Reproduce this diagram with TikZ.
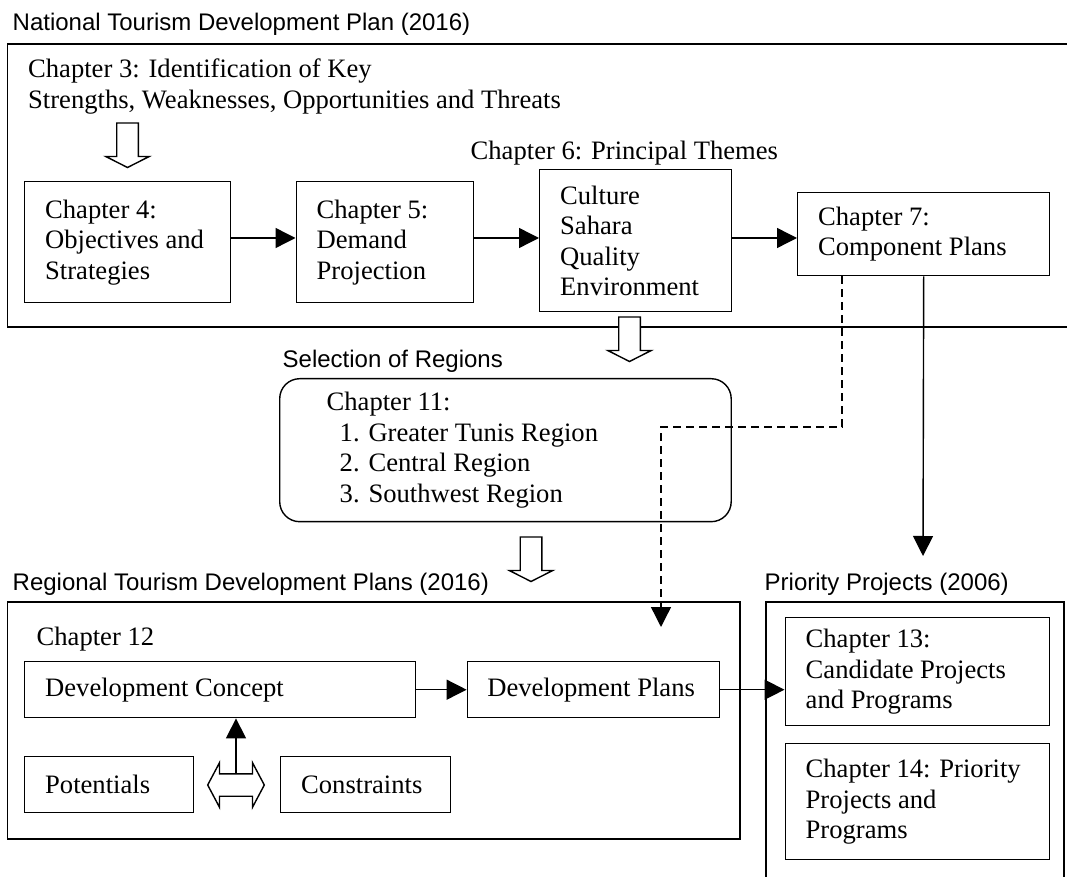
\documentclass[tikz,border=0pt]{standalone}
\usepackage{fontspec}
\setmainfont{Liberation Serif}
\setsansfont{Liberation Sans}
\usetikzlibrary{arrows.meta}

\newcommand\chapfont{\fontsize{13.3pt}{15.25pt}\selectfont}
\newcommand\headfont{\sffamily\fontsize{12pt}{14pt}\selectfont}

\begin{document}
\begin{tikzpicture}[x=0.5pt, y=-0.5pt, line width=0.7pt,
    chapter/.style ={draw, rectangle, anchor=north west, align=flush left,
                     inner xsep=10.25pt, inner ysep=0pt, font=\chapfont},
    heading/.style ={anchor=base west, inner sep=0pt, font=\headfont},
    caption/.style ={anchor=base west, inner sep=0pt, font=\chapfont},
    conn/.style    ={-{Triangle[length=10pt,width=10pt]}},
    dashconn/.style={conn, dash pattern=on 4pt off 2.5pt},
    hollowdown/.pic={\draw[fill=white] (-10.8,0) -- (-10.8,33.5) -- (-21.7,33.5)
                     -- (0,44.5) -- (21.7,33.5) -- (10.8,33.5) -- (10.8,0) -- cycle;},
    hollowboth/.pic={\draw[fill=white] (-16.5,-22.3) -- (-28.3,0) -- (-16.5,22.3)
                     -- (-16.5,11.2) -- (16.5,11.2) -- (16.5,22.3) -- (28.3,0)
                     -- (16.5,-22.3) -- (16.5,-11.2) -- (-16.5,-11.2) -- cycle;}]
   \useasboundingbox (0,0) rectangle (1067,877);
   \clip (0,0) rectangle (1067,877);

   % national plan
   \node[heading] (natTitle) at (12,30.7) {National Tourism Development Plan (2016)};
   \draw (7.6,44) rectangle (1080,327);
   \node[caption] (ch3) at (27.5,78)
        {\begin{tabular}[t]{@{}l@{}}Chapter 3: Identification of Key\\
         Strengths, Weaknesses, Opportunities and Threats\end{tabular}};
   \pic at (127.5,123) {hollowdown};
   \node[chapter, minimum width=103pt, minimum height=60.5pt, text width=82.5pt]
        (ch4) at (24,181) {Chapter 4:\\Objectives and\\Strategies};
   \node[chapter, minimum width=88.75pt, minimum height=60.5pt, text width=68.25pt]
        (ch5) at (295.5,181) {Chapter 5:\\Demand\\Projection};
   \node[caption] (themesTitle) at (470,160) {Chapter 6: Principal Themes};
   \node[chapter, minimum width=96pt, minimum height=71pt, text width=75.5pt]
        (themes) at (539,169) {Culture\\Sahara\\Quality\\Environment};
   \node[chapter, minimum width=126pt, minimum height=41.5pt, text width=105.5pt]
        (ch7) at (797,192) {Chapter 7:\\Component Plans};
   \coordinate (row) at (0,238);
   \draw[conn] (ch4.east |- row) -- (ch5.west |- row);
   \draw[conn] (ch5.east |- row) -- (themes.west |- row);
   \draw[conn] (themes.east |- row) -- (ch7.west |- row);

   % selection of regions
   \pic at (629.5,317) {hollowdown};
   \node[heading] (selTitle) at (282,368) {Selection of Regions};
   \node[chapter, rounded corners=10pt, inner xsep=23.5pt, minimum width=225.75pt,
         minimum height=71.5pt, text width=178.75pt] (ch11) at (279,378)
        {Chapter 11:\\\hspace*{6.5pt}1. Greater Tunis Region\\\hspace*{6.5pt}2. Central Region\\\hspace*{6.5pt}3. Southwest Region};
   \pic at (531,537) {hollowdown};

   % regional plans
   \node[heading] (regTitle) at (12,590) {Regional Tourism Development Plans (2016)};
   \draw (7.6,602) rectangle (740,839);
   \node[caption] (ch12) at (36,646) {Chapter 12};
   \node[chapter, minimum width=195.5pt, minimum height=28pt, text width=175pt]
        (devConcept) at (24,661) {Development Concept};
   \node[chapter, inner xsep=10pt, minimum width=126.2pt, minimum height=28pt, text width=106.2pt]
        (devPlans) at (466.6,661) {Development Plans};
   \node[chapter, minimum width=84.5pt, minimum height=28pt, text width=64pt]
        (potentials) at (24,756) {Potentials};
   \node[chapter, minimum width=84.75pt, minimum height=28pt, text width=64.25pt]
        (constraints) at (280,756) {Constraints};
   \pic at (236,785) {hollowboth};
   \coordinate (dblTop) at (236,773.8);
   \draw[conn] (dblTop) -- (dblTop |- devConcept.south);
   \draw[conn] (devConcept) -- (devPlans);

   % priority projects
   \node[heading] (prioTitle) at (764,590) {Priority Projects (2006)};
   \draw (766,602) rectangle (1064,900);
   \node[chapter, minimum width=132.25pt, minimum height=54pt, text width=111.75pt]
        (ch13) at (784.5,617) {Chapter 13:\\Candidate Projects\\and Programs};
   \node[chapter, minimum width=132.25pt, minimum height=58pt, text width=111.75pt]
        (ch14) at (784.5,743) {Chapter 14: Priority\\Projects and\\Programs};
   \draw[conn] (devPlans.east) -- (devPlans.east -| ch13.west);

   % component plans feed both levels
   \coordinate (prioPin) at (923,556);
   \coordinate (bend) at (661,427);
   \coordinate (regPin) at (661,627);
   \draw[conn] (ch7.south) -- (prioPin);
   \draw[dashconn] ([xshift=22.5pt]ch7.south west) |- (bend) -- (regPin);
\end{tikzpicture}
\end{document}
